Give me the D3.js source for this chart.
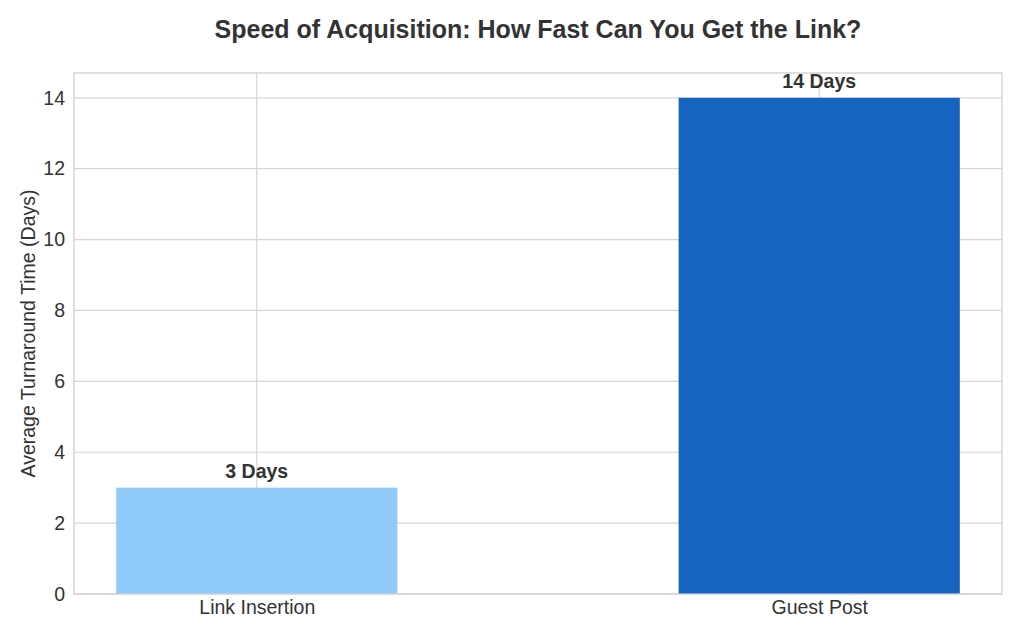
<!DOCTYPE html>
<html>
<head>
<meta charset="utf-8">
<script src="https://cdn.jsdelivr.net/npm/d3@7"></script>
<style>
  body { margin: 0; background: #fff; }
  svg text { font-family: "Liberation Sans", Arial, sans-serif; fill: #333; }
</style>
</head>
<body>
<svg id="chart" width="1024" height="640"></svg>
<script>
var categories = ["Link Insertion", "Guest Post"];
var days = [3, 14];
var barLabels = ["3 Days", "14 Days"];
var barColors = ["#90CAF9", "#1565C0"];
var yTicks = [0, 2, 4, 6, 8, 10, 12, 14];

var svg = d3.select("#chart");
var margin = { left: 74, right: 22, top: 73, bottom: 46 };
var W = 1024, H = 640;
var plotW = W - margin.left - margin.right;
var plotH = H - margin.top - margin.bottom;

// numeric x like matplotlib: bars at 0 and 1, width 0.5, 5% margins
var x = d3.scaleLinear().domain([-0.325, 1.325]).range([0, plotW]);
var y = d3.scaleLinear().domain([0, 14.7]).range([plotH, 0]);
var barW = x(0.5) - x(0);

var g = svg.append("g").attr("transform", "translate(" + margin.left + "," + margin.top + ")");

// grid
g.append("g").selectAll("line").data(yTicks).join("line")
  .attr("x1", 0).attr("x2", plotW)
  .attr("y1", d => y(d)).attr("y2", d => y(d))
  .attr("stroke", "#d6d6d6").attr("stroke-width", 1.2);
g.append("g").selectAll("line").data(categories).join("line")
  .attr("x1", (d, i) => x(i)).attr("x2", (d, i) => x(i))
  .attr("y1", 0).attr("y2", plotH)
  .attr("stroke", "#d6d6d6").attr("stroke-width", 1.2);

// bars
g.selectAll("rect.bar").data(days).join("rect")
  .attr("class", "bar")
  .attr("x", (d, i) => x(i) - barW / 2)
  .attr("width", barW)
  .attr("y", d => y(d))
  .attr("height", d => plotH - y(d))
  .attr("fill", (d, i) => barColors[i]);

// bar value labels
g.selectAll("text.val").data(days).join("text")
  .attr("class", "val")
  .attr("x", (d, i) => x(i))
  .attr("y", d => y(d) - 10)
  .attr("text-anchor", "middle")
  .style("font-size", "19.5px").style("font-weight", "bold")
  .text((d, i) => barLabels[i]);

// frame
g.append("rect").attr("width", plotW).attr("height", plotH)
  .attr("fill", "none").attr("stroke", "#cfcfcf").attr("stroke-width", 1.3);

// y axis labels
var yAxis = d3.axisLeft(y).tickValues(yTicks).tickSize(0).tickPadding(9);
var ya = g.append("g").call(yAxis);
ya.select(".domain").remove();
ya.selectAll("text").style("font-size", "19.5px").attr("fill", "#333");

// x axis labels
var xAxis = d3.axisBottom(x).tickValues([0, 1]).tickSize(0).tickPadding(6)
  .tickFormat((d) => categories[d]);
var xa = g.append("g").attr("transform", "translate(0," + plotH + ")").call(xAxis);
xa.select(".domain").remove();
xa.selectAll("text").style("font-size", "19.5px").attr("fill", "#333");

// y title
svg.append("text")
  .attr("transform", "translate(35," + (margin.top + plotH / 2) + ") rotate(-90)")
  .attr("text-anchor", "middle")
  .style("font-size", "19.5px")
  .text("Average Turnaround Time (Days)");

// title
svg.append("text")
  .attr("x", margin.left + plotW / 2).attr("y", 38)
  .attr("text-anchor", "middle")
  .style("font-size", "25px").style("font-weight", "bold")
  .text("Speed of Acquisition: How Fast Can You Get the Link?");
</script>
</body>
</html>
